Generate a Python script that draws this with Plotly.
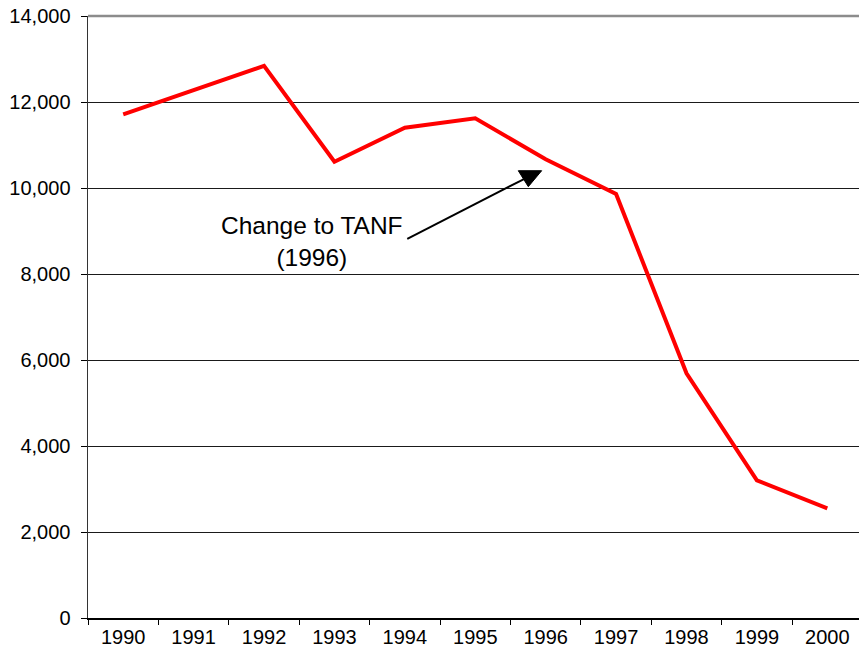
import plotly.graph_objects as go

years = ["1990", "1991", "1992", "1993", "1994", "1995", "1996", "1997", "1998", "1999", "2000"]
cases = [11710, 12270, 12840, 10610, 11400, 11620, 10670, 9860, 5690, 3200, 2550]
y_ticks = [0, 2000, 4000, 6000, 8000, 10000, 12000, 14000]
note_text = "Change to TANF<br>(1996)"

FONT = "Liberation Sans, Arial, sans-serif"

fig = go.Figure()
fig.add_trace(go.Scatter(
    x=years, y=cases, mode="lines",
    line=dict(color="#FF0000", width=4),
    hoverinfo="skip", showlegend=False,
))

fig.update_layout(
    width=859, height=664,
    margin=dict(l=88, r=0, t=16, b=46, autoexpand=False),
    paper_bgcolor="white", plot_bgcolor="white",
    font=dict(family=FONT, size=20, color="black"),
    xaxis=dict(
        type="category", range=[-0.5, 10.45],
        tickson="boundaries", ticks="outside", ticklen=5, tickcolor="black",
        showgrid=False, showline=True, linecolor="black", linewidth=1.5,
        zeroline=False, tickfont=dict(size=20), automargin=False,
        ticklabeloverflow="allow",
    ),
    yaxis=dict(
        range=[0, 14000], tickvals=y_ticks, tickformat=",",
        ticks="outside", ticklen=6, tickcolor="black",
        showgrid=True, gridcolor="#1a1a1a", gridwidth=1,
        showline=True, linecolor="#333333", linewidth=1.5,
        zeroline=False, tickfont=dict(size=20), automargin=False,
        ticklabelstandoff=6, ticklabeloverflow="allow",
    ),
)

# top border of plot area (gray)
fig.add_shape(type="line", xref="paper", yref="paper", x0=0, x1=1, y0=1, y1=1,
              line=dict(color="#8c8c8c", width=2.5), layer="above")

# annotation text
fig.add_annotation(xref="paper", yref="paper", x=0.2905, y=0.626,
                   text=note_text, showarrow=False,
                   font=dict(family=FONT, size=24.5, color="black"),
                   xanchor="center", yanchor="middle", align="center")

# arrow line and head
fig.add_shape(type="line", xref="paper", yref="paper",
              x0=0.4141, y0=0.6296, x1=0.5655, y1=0.7292,
              line=dict(color="black", width=2))
fig.add_shape(type="path", xref="paper", yref="paper",
              path="M 0.5581 0.7430 L 0.5884 0.7430 L 0.5711 0.7165 Z",
              fillcolor="black", line=dict(color="black", width=1))

fig.write_html(
    "out.html",
    config={"displayModeBar": False, "staticPlot": True},
    post_script="document.body.style.margin='0';document.body.style.overflow='hidden';",
)
